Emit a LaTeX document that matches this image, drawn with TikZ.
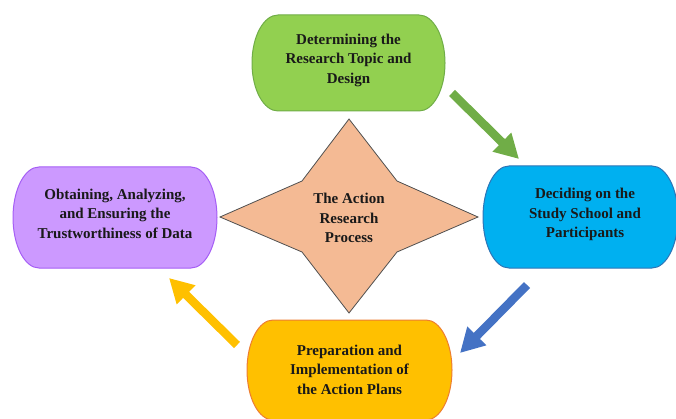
\documentclass[tikz,border=0pt]{standalone}
\usepackage{fontspec}
\setmainfont{Liberation Serif}
\usetikzlibrary{arrows.meta}

\definecolor{grfill}{HTML}{92D050}
\definecolor{grline}{HTML}{70AD47}
\definecolor{blfill}{HTML}{00B0F0}
\definecolor{blline}{HTML}{2E75B6}
\definecolor{pufill}{HTML}{CC99FF}
\definecolor{puline}{HTML}{A55EF5}
\definecolor{orfill}{HTML}{FFC000}
\definecolor{orline}{HTML}{ED7D31}
\definecolor{stfill}{HTML}{F4BA94}
\definecolor{stline}{HTML}{505050}
\definecolor{argreen}{HTML}{70AD47}
\definecolor{arblue}{HTML}{4472C4}
\definecolor{aryellow}{HTML}{FFC000}

\tikzset{
  boxtext/.style={font=\fontsize{15}{19.5}\selectfont\bfseries, align=center, text=black!90, inner sep=0pt},
  pill/.style={line width=1pt},
  flow/.style={line width=8.5pt, -{Triangle[width=25pt,length=24pt]}},
}

% rounded box with elliptical ends: centre x, centre y, width, half height, fill, line
\newcommand\pillshape[6]{%
  \draw[pill, fill=#5, draw=#6]
    ({#1-#3/2+26},{#2+#4}) -- ({#1+#3/2-26},{#2+#4})
    arc[start angle=90, end angle=-90, x radius=26pt, y radius=#4 pt]
    -- ({#1-#3/2+26},{#2-#4})
    arc[start angle=270, end angle=90, x radius=26pt, y radius=#4 pt]
    -- cycle;}

\begin{document}
\begin{tikzpicture}[x=1pt, y=1pt]
  \useasboundingbox (0,0) rectangle (676,418);
  \clip (0,0) rectangle (676,418);

  % the four stages
  \pillshape{348.5}{355}{193}{48}{grfill}{grline}
  \pillshape{580.5}{201}{195}{51}{blfill}{blline}
  \pillshape{115}{200.5}{204}{50.5}{pufill}{puline}
  \pillshape{349.5}{48}{205}{50}{orfill}{orline}

  \node[boxtext] (green)  at (348.5,358) {Determining the\\Research Topic and\\Design};
  \node[boxtext] (blue)   at (585,203.5) {Deciding on the\\Study School and\\Participants};
  \node[boxtext] (purple) at (115,204.5) {Obtaining, Analyzing,\\and Ensuring the\\Trustworthiness of Data};
  \node[boxtext] (orange) at (349.5,48.5) {Preparation and\\Implementation of\\the Action Plans};

  % central four-pointed star
  \draw[fill=stfill, draw=stline, line width=0.8pt]
    (349,299) -- (397,237) -- (478,201) -- (397,166) -- (349,105)
    -- (302,166) -- (220,201) -- (302,237) -- cycle;
  \node[boxtext] (star) at (349,200) {The Action\\Research\\Process};

  % arrow ends
  \coordinate (g1) at (452,325);
  \coordinate (g2) at (519,259);
  \coordinate (b1) at (527,133);
  \coordinate (b2) at (460,65);
  \coordinate (y1) at (237,73);
  \coordinate (y2) at (169,140);

  \draw[flow, draw=argreen, fill=argreen]   (g1) -- (g2);
  \draw[flow, draw=arblue, fill=arblue]     (b1) -- (b2);
  \draw[flow, draw=aryellow, fill=aryellow] (y1) -- (y2);
\end{tikzpicture}
\end{document}
